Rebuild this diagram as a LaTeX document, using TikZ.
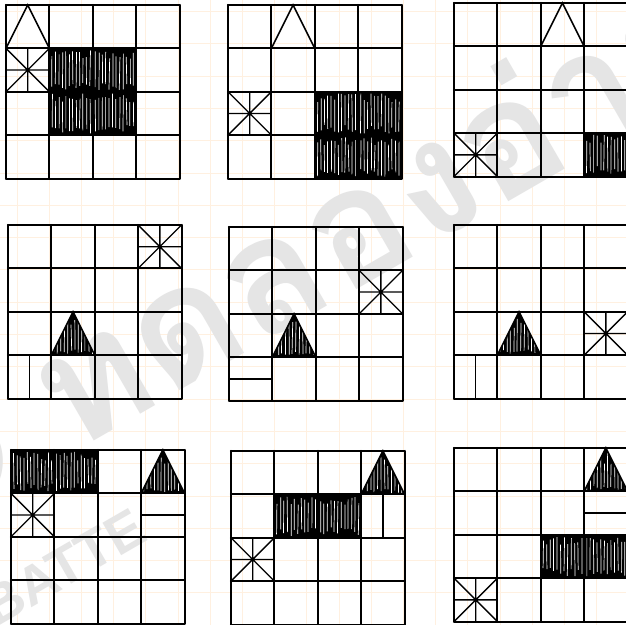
\documentclass[tikz,border=0pt]{standalone}
\usepackage{fontspec}
\newfontfamily\thaifont[Script=Thai]{Loma}
\newfontfamily\markfont{Liberation Sans}
\begin{document}
\begin{tikzpicture}[x=0.02cm, y=-0.02cm,
  paper/.style={orange!12, line width=0.5pt},
  gridline/.style={line width=1.15pt, line cap=round},
  spoke/.style={line width=0.75pt},
  pen/.style={line width=0.9pt, line cap=round},
  streak/.style={white, line width=0.4pt},
  wmark/.style={text=black!10, inner sep=0pt, rotate=30, anchor=base west},
  asterisk/.pic={\draw[spoke] (0,0) -- (1,1) (1,0) -- (0,1) (0.5,0) -- (0.5,1) (0,0.5) -- (1,0.5);},
  peak/.pic={\draw[pen] (0,1) .. controls (0.27,0.5) .. (0.5,0) .. controls (0.73,0.5) .. (1,1);},
  hatchcell/.pic={
    \fill (0,0) rectangle (1,1);
    \foreach \k in {0,...,11} \draw[streak] ({0.05+0.08*\k+0.02*rnd},{0.04+0.2*rnd}) -- ({0.05+0.08*\k+0.02*rnd},{0.96-0.2*rnd});
  },
  solidpeak/.pic={
    \fill (0,1) -- (0.5,0) -- (1,1) -- cycle;
    \begin{scope}
      \clip (0,1) -- (0.5,0) -- (1,1) -- cycle;
      \foreach \k in {0,...,11} \draw[streak] ({0.05+0.08*\k+0.02*rnd},{0.1+0.3*rnd}) -- ({0.05+0.08*\k+0.02*rnd},{0.97-0.1*rnd});
    \end{scope}
    \draw[pen] (0,1) -- (0.5,0) -- (1,1);
  },
]
  \pgfmathsetseed{11}
  \useasboundingbox (0,0) rectangle (626,625);
  % paper
  \fill[white] (0,0) rectangle (626,625);
  \foreach \k in {0,...,18} { \draw[paper] ({17+32.2*\k},0) -- ({17+32.2*\k},625); }
  \foreach \k in {0,...,19} { \draw[paper] (0,{11.5+32.3*\k}) -- (626,{11.5+32.3*\k}); }
  % watermark
  \node[wmark, font=\thaifont\bfseries\fontsize{92}{92}\selectfont] (trial) at (-78,540) {{\markfont ©}~ทดลองอ่าน};
  \node[wmark, font=\markfont\bfseries\fontsize{31}{31}\selectfont] (press) at (-4,628) {BATTE};

  % first row
  \begin{scope}[shift={(6,5)}, x=0.868cm, y=-0.868cm]
    \pic at (1,1) {hatchcell}; \pic at (2,1) {hatchcell};
    \pic at (1,2) {hatchcell}; \pic at (2,2) {hatchcell};
    \foreach \k in {0,...,4} { \draw[gridline] (\k,0) -- (\k,4); \draw[gridline] (0,\k) -- (4,\k); }
    \pic at (0,0) {peak};
    \pic at (0,1) {asterisk};
  \end{scope}
  \begin{scope}[shift={(228,5)}, x=0.868cm, y=-0.868cm]
    \pic at (2,2) {hatchcell}; \pic at (3,2) {hatchcell};
    \pic at (2,3) {hatchcell}; \pic at (3,3) {hatchcell};
    \foreach \k in {0,...,4} { \draw[gridline] (\k,0) -- (\k,4); \draw[gridline] (0,\k) -- (4,\k); }
    \pic at (1,0) {peak};
    \pic at (0,2) {asterisk};
  \end{scope}
  \begin{scope}[shift={(454,3)}, x=0.868cm, y=-0.868cm]
    \pic at (3,3) {hatchcell};
    \foreach \k in {0,...,4} { \draw[gridline] (\k,0) -- (\k,4); \draw[gridline] (0,\k) -- (4,\k); }
    \pic at (2,0) {peak};
    \pic at (0,3) {asterisk};
  \end{scope}

  % second row
  \begin{scope}[shift={(8,225)}, x=0.868cm, y=-0.868cm]
    \foreach \k in {0,...,4} { \draw[gridline] (\k,0) -- (\k,4); \draw[gridline] (0,\k) -- (4,\k); }
    \pic at (3,0) {asterisk};
    \pic at (1,2) {solidpeak};
    \draw[pen] (0.5,3) -- (0.5,4);
  \end{scope}
  \begin{scope}[shift={(229,227)}, x=0.868cm, y=-0.868cm]
    \foreach \k in {0,...,4} { \draw[gridline] (\k,0) -- (\k,4); \draw[gridline] (0,\k) -- (4,\k); }
    \pic at (3,1) {asterisk};
    \pic at (1,2) {solidpeak};
    \draw[pen] (0,3.5) -- (1,3.5);
  \end{scope}
  \begin{scope}[shift={(454,225)}, x=0.868cm, y=-0.868cm]
    \foreach \k in {0,...,4} { \draw[gridline] (\k,0) -- (\k,4); \draw[gridline] (0,\k) -- (4,\k); }
    \pic at (3,2) {asterisk};
    \pic at (1,2) {solidpeak};
    \draw[pen] (0.5,3) -- (0.5,4);
  \end{scope}

  % third row
  \begin{scope}[shift={(11,450)}, x=0.868cm, y=-0.868cm]
    \pic at (0,0) {hatchcell}; \pic at (1,0) {hatchcell};
    \foreach \k in {0,...,4} { \draw[gridline] (\k,0) -- (\k,4); \draw[gridline] (0,\k) -- (4,\k); }
    \pic at (3,0) {solidpeak};
    \pic at (0,1) {asterisk};
    \draw[pen] (3,1.5) -- (4,1.5);
  \end{scope}
  \begin{scope}[shift={(231,451)}, x=0.868cm, y=-0.868cm]
    \pic at (1,1) {hatchcell}; \pic at (2,1) {hatchcell};
    \foreach \k in {0,...,4} { \draw[gridline] (\k,0) -- (\k,4); \draw[gridline] (0,\k) -- (4,\k); }
    \pic at (3,0) {solidpeak};
    \draw[pen] (3.5,1) -- (3.5,2);
    \pic at (0,2) {asterisk};
  \end{scope}
  \begin{scope}[shift={(454,448)}, x=0.868cm, y=-0.868cm]
    \pic at (2,2) {hatchcell}; \pic at (3,2) {hatchcell};
    \foreach \k in {0,...,4} { \draw[gridline] (\k,0) -- (\k,4); \draw[gridline] (0,\k) -- (4,\k); }
    \pic at (3,0) {solidpeak};
    \draw[pen] (3,1.5) -- (4,1.5);
    \pic at (0,3) {asterisk};
  \end{scope}
\end{tikzpicture}
\end{document}
